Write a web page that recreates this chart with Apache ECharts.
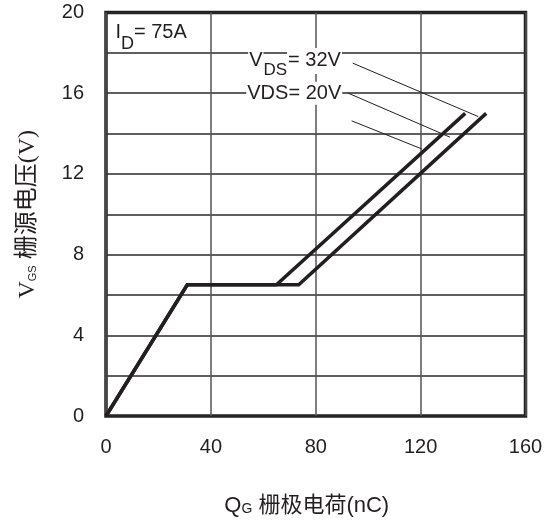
<!DOCTYPE html>
<html>
<head>
<meta charset="utf-8">
<script src="https://cdn.jsdelivr.net/npm/echarts@6/dist/echarts.min.js"></script>
<style>
  html, body { margin: 0; padding: 0; background: #fff; }
  #chart { width: 551px; height: 522px; }
</style>
</head>
<body>
<div id="chart"></div>
<script>
// Gate charge curves: gate charge Qg (nC) against gate-source voltage Vgs (V)
const qgVds20 = [0, 31, 65, 137];
const vgsVds20 = [0, 6.5, 6.5, 15];
const qgVds32 = [0, 31, 73.5, 145];
const vgsVds32 = [0, 6.5, 6.5, 15];

const xTickLabels = [0, 40, 80, 120, 160];
const yTickLabels = [0, 4, 8, 12, 16, 20];

// Thin leader lines pointing from the condition labels to the curves
const leaderLines = [
  [[94.1, 17.49], [142.0, 14.84]],
  [[92.4, 16.0], [131.2, 13.82]],
  [[93.7, 14.63], [120.4, 13.24]]
];

const INK = '#231f20';
const SANS = '"Liberation Sans", Arial, Helvetica, sans-serif';
const SERIF = '"Liberation Serif", "Noto Sans CJK SC", serif';

function zip(xs, ys) { return xs.map((x, i) => [x, ys[i]]); }

const curveStyle = { color: INK, width: 3.5, cap: 'butt', join: 'miter' };

const series = [
  {
    name: 'VDS=20V', type: 'line', data: zip(qgVds20, vgsVds20),
    symbol: 'none', lineStyle: curveStyle, z: 5
  },
  {
    name: 'VDS=32V', type: 'line', data: zip(qgVds32, vgsVds32),
    symbol: 'none', lineStyle: curveStyle, z: 5
  }
];

leaderLines.forEach((seg, i) => {
  series.push({
    name: 'leader' + i, type: 'line', data: seg, symbol: 'none',
    lineStyle: { color: INK, width: 1 }, z: 4
  });
});

// Text annotations anchored in data space
const notes = [
  {
    at: [3.6, 18.74], position: 'right',
    text: '{a|I}{s|D}{a|= 75A}',
    rich: {
      a: { fontSize: 20, fontFamily: SANS, color: INK, lineHeight: 30, verticalAlign: 'top' },
      s: { fontSize: 18, fontFamily: SANS, color: INK, lineHeight: 30, verticalAlign: 'bottom' }
    }
  },
  {
    at: [72.1, 17.45], position: 'inside',
    text: '{a|V}{s|DS}{a|= 32V}',
    rich: {
      a: { fontSize: 20, fontFamily: SANS, color: INK, lineHeight: 32, verticalAlign: 'top',
           backgroundColor: '#fff', padding: [3, 1, 3, 1] },
      s: { fontSize: 17, fontFamily: SANS, color: INK, lineHeight: 32, verticalAlign: 'bottom',
           backgroundColor: '#fff', padding: [2, 0, 1, 0] }
    }
  },
  {
    at: [71.8, 16.0], position: 'inside',
    text: '{a|VDS= 20V}',
    rich: {
      a: { fontSize: 20, fontFamily: SANS, color: INK, backgroundColor: '#fff', padding: [2, 1, 1, 1] }
    }
  }
];

notes.forEach((n, i) => {
  series.push({
    name: 'note' + i, type: 'scatter', data: [n.at], symbolSize: 0, z: 6,
    silent: true,
    itemStyle: { opacity: 1, color: INK },
    emphasis: { disabled: true },
    label: {
      show: true, position: n.position, distance: 0,
      color: INK, opacity: 1, textBorderWidth: 0,
      formatter: n.text, rich: n.rich
    }
  });
});

const chart = echarts.init(document.getElementById('chart'), null, { renderer: 'canvas' });
chart.setOption({
  animation: false,
  backgroundColor: '#fff',
  grid: {
    left: 106, right: 25.5, top: 12.5, bottom: 106,
    show: true, borderColor: INK, borderWidth: 3.5, backgroundColor: 'transparent',
    containLabel: false, outerBoundsMode: 'none'
  },
  xAxis: {
    type: 'value', min: 0, max: 160, interval: 40,
    axisLine: { show: false }, axisTick: { show: false },
    splitLine: { show: true, lineStyle: { color: '#555', width: 1.5 } },
    axisLabel: {
      margin: 21, color: INK, fontSize: 20, fontFamily: SANS,
      formatter: v => xTickLabels.includes(v) ? String(v) : ''
    },
    name: '{q|Q}{g|G} 栅极电荷(nC)',
    nameLocation: 'middle', nameGap: 79,
    nameTextStyle: {
      padding: [0, 18, 0, 0],
      rich: {
        q: { fontSize: 22, fontFamily: SANS, color: INK },
        g: { fontSize: 14, fontFamily: SANS, color: INK, verticalAlign: 'bottom', padding: [0, 0, 1, 0] }
      },
      fontSize: 22, fontFamily: '"Liberation Sans", "Noto Sans CJK SC", sans-serif', color: INK
    }
  },
  yAxis: {
    type: 'value', min: 0, max: 20, interval: 2,
    axisLine: { show: false }, axisTick: { show: false },
    splitLine: { show: true, lineStyle: { color: '#2a2a2a', width: 1.5 } },
    axisLabel: {
      margin: 22, color: INK, fontSize: 20, fontFamily: SANS,
      formatter: v => yTickLabels.includes(v) ? String(v) : ''
    },
    name: '{v|V}{g|GS} 栅源电压(V)',
    nameLocation: 'middle', nameGap: 66,
    nameTextStyle: {
      fontSize: 24, fontFamily: SERIF, color: INK,
      rich: {
        v: { fontSize: 24, fontFamily: SERIF, color: INK },
        g: { fontSize: 11, fontFamily: SANS, color: INK, verticalAlign: 'bottom', padding: [0, 0, 2, 0] }
      }
    }
  },
  series: series
});
</script>
</body>
</html>
